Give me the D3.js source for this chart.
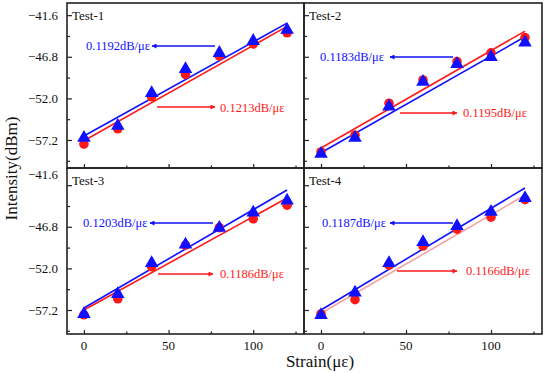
<!DOCTYPE html>
<html lang="en">
  <head>
    <meta charset="UTF-8" />
    <title>strain sensitivity</title>
    <style>
      body {
        margin: 0;
        background: #fff;
      }
      svg text {
        font-family: "Liberation Serif", "DejaVu Serif", "Times New Roman", serif;
      }
      .tick-label {
        font-size: 13px;
        fill: #111;
      }
      .note {
        font-size: 12.5px;
      }
    </style>
  </head>
  <body>
    <svg id="chart" width="550" height="373"></svg>
    <script src="https://d3js.org/d3.v7.min.js"></script>
    <script>
      // strain steps (με)
      const strain = [0, 20, 40, 60, 80, 100, 120];

      // measured intensity (dBm), red circles and blue triangles
      const test1Red = [-57.7, -55.8, -51.8, -49.0, -46.7, -45.2, -43.8];
      const test1Blue = [-56.8, -55.3, -51.2, -48.2, -46.2, -44.7, -43.3];
      const test2Red = [-58.7, -56.6, -52.6, -49.7, -47.4, -46.3, -44.4];
      const test2Blue = [-58.8, -56.8, -52.9, -49.8, -47.6, -46.7, -44.9];
      const test3Red = [-57.8, -55.8, -51.8, -49.1, -46.9, -45.8, -44.1];
      const test3Blue = [-57.6, -55.1, -51.2, -48.9, -46.8, -44.9, -43.4];
      const test4Red = [-57.7, -55.9, -51.6, -49.2, -47.1, -45.6, -43.4];
      const test4Blue = [-57.7, -54.9, -51.2, -48.6, -46.6, -44.8, -43.1];

      // linear fit ends at strain 0 and 120
      const fitStrain = [0, 120];
      const test1RedFit = [-57.3, -43.0];
      const test1BlueFit = [-56.7, -42.6];
      const test2RedFit = [-58.2, -43.6];
      const test2BlueFit = [-58.8, -44.3];
      const test3RedFit = [-57.2, -43.2];
      const test3BlueFit = [-56.95, -42.2];
      const test4RedFit = [-57.6, -42.85];
      const test4BlueFit = [-57.2, -41.95];

      const testNames = ["Test-1", "Test-2", "Test-3", "Test-4"];
      const blueSlopes = ["0.1192dB/με", "0.1183dB/με", "0.1203dB/με", "0.1187dB/με"];
      const redSlopes = ["0.1213dB/με", "0.1195dB/με", "0.1186dB/με", "0.1166dB/με"];

      const yTickLabels = [-41.6, -46.8, -52.0, -57.2];
      const yMinorTicks = [-44.2, -49.4, -54.6, -59.8];
      const xTickLabels = [0, 50, 100];
      const xMinorTicks = [25, 75, 125];

      const BLUE = "#1010ff";
      const RED = "#ff1a1a";

      const svg = d3.select("#chart");

      const left = 67, mid = 304, right = 542;
      const plotTop = 3, middle = 168, plotBottom = 334;

      const xLeft = d3.scaleLinear().domain([-10, 130]).range([left, mid]);
      const xRight = d3.scaleLinear().domain([-10, 130]).range([mid, right]);
      const yTop = d3.scaleLinear().domain([-60.7, -40.08]).range([middle, plotTop]);
      const yBottom = d3.scaleLinear().domain([-60.2, -39.45]).range([plotBottom, middle]);

      // annotation layout per panel, in panel-local pixels
      const notes = [
        { bt: [19, 43], ba: [148, 85], ra: [90, 148, 104], rt: [153, 105] },
        { bt: [16, 54], ba: [149, 86], ra: [96, 153, 110], rt: [159, 110] },
        { bt: [16, 55], ba: [146, 83], ra: [91, 146, 106], rt: [153, 106] },
        { bt: [18, 55], ba: [149, 86], ra: [93, 153, 103], rt: [162, 103] },
      ];

      const panels = [
        { x: xLeft, y: yTop, red: test1Red, blue: test1Blue, rf: test1RedFit, bf: test1BlueFit, yLabels: true, xAxis: false, redFitColor: RED },
        { x: xRight, y: yTop, red: test2Red, blue: test2Blue, rf: test2RedFit, bf: test2BlueFit, yLabels: false, xAxis: false, redFitColor: RED },
        { x: xLeft, y: yBottom, red: test3Red, blue: test3Blue, rf: test3RedFit, bf: test3BlueFit, yLabels: true, xAxis: true, redFitColor: RED },
        { x: xRight, y: yBottom, red: test4Red, blue: test4Blue, rf: test4RedFit, bf: test4BlueFit, yLabels: false, xAxis: true, redFitColor: "#f4a3a3" },
      ];

      const defs = svg.append("defs");
      [["arrowBlue", BLUE], ["arrowRed", RED]].forEach(([id, c]) => {
        defs.append("marker")
          .attr("id", id)
          .attr("viewBox", "0 0 10 10")
          .attr("refX", 9)
          .attr("refY", 5)
          .attr("markerWidth", 7)
          .attr("markerHeight", 5)
          .attr("markerUnits", "userSpaceOnUse")
          .attr("orient", "auto")
          .append("path")
          .attr("d", "M0,0L10,5L0,10Z")
          .attr("fill", c);
      });

      const triangle = d3.symbol().type(d3.symbolTriangle).size(80);

      panels.forEach((p, i) => {
        const [x0, x1] = p.x.range();
        const [y1, y0] = p.y.range();
        const g = svg.append("g");
        const clipId = "clip" + i;
        defs.append("clipPath").attr("id", clipId)
          .append("rect").attr("x", x0).attr("y", y0).attr("width", x1 - x0).attr("height", y1 - y0);

        // y ticks pointing inward
        const yAxis = d3.axisRight(p.y).tickValues(yTickLabels).tickSize(5)
          .tickFormat("");
        g.append("g").attr("transform", `translate(${x0},0)`).call(yAxis)
          .call(a => a.select(".domain").remove())
          .call(a => a.selectAll("line").attr("stroke", "#222").attr("stroke-width", 1.2));
        g.append("g").attr("transform", `translate(${x0},0)`)
          .call(d3.axisRight(p.y).tickValues(yMinorTicks.filter(v => v > p.y.domain()[0])).tickSize(3).tickFormat(""))
          .call(a => a.select(".domain").remove())
          .call(a => a.selectAll("line").attr("stroke", "#222").attr("stroke-width", 1.2));

        if (p.yLabels) {
          g.append("g").selectAll("text").data(yTickLabels).join("text")
            .attr("class", "tick-label")
            .attr("x", x0 - 9)
            .attr("y", d => p.y(d))
            // the top label of the lower panel sits just under the divider
            .attr("dy", d => (i === 2 && d === yTickLabels[0]) ? "-0.45em" : "0.35em")
            .attr("text-anchor", "end")
            .text(d => d3.format(".1f")(d));
        }

        // x ticks pointing up from the bottom edge
        g.append("g").attr("transform", `translate(0,${y1})`)
          .call(d3.axisTop(p.x).tickValues(xTickLabels).tickSize(4).tickFormat(""))
          .call(a => a.select(".domain").remove())
          .call(a => a.selectAll("line").attr("stroke", "#222").attr("stroke-width", 1.2));
        g.append("g").attr("transform", `translate(0,${y1})`)
          .call(d3.axisTop(p.x).tickValues(xMinorTicks).tickSize(2.5).tickFormat(""))
          .call(a => a.select(".domain").remove())
          .call(a => a.selectAll("line").attr("stroke", "#222").attr("stroke-width", 1.2));

        if (p.xAxis) {
          g.append("g").selectAll("text").data(xTickLabels).join("text")
            .attr("class", "tick-label")
            .attr("x", d => p.x(d))
            .attr("y", y1 + 16)
            .attr("text-anchor", "middle")
            .text(d => d);
        }

        const plot = g.append("g").attr("clip-path", `url(#${clipId})`);
        const line = d3.line().x(d => p.x(d[0])).y(d => p.y(d[1]));

        plot.append("path").datum(d3.zip(fitStrain, p.rf))
          .attr("d", line).attr("fill", "none").attr("stroke", p.redFitColor).attr("stroke-width", 1.6);
        plot.append("path").datum(d3.zip(fitStrain, p.bf))
          .attr("d", line).attr("fill", "none").attr("stroke", BLUE).attr("stroke-width", 1.6);

        plot.selectAll("circle").data(d3.zip(strain, p.red)).join("circle")
          .attr("cx", d => p.x(d[0]))
          .attr("cy", d => p.y(d[1]))
          .attr("r", 4.8)
          .attr("fill", RED);

        plot.selectAll("path.tri").data(d3.zip(strain, p.blue)).join("path")
          .attr("class", "tri")
          .attr("transform", d => `translate(${p.x(d[0])},${p.y(d[1]) + 1})`)
          .attr("d", triangle)
          .attr("fill", BLUE);

        // panel title
        g.append("text").attr("x", x0 + 5).attr("y", y0 + 17)
          .attr("font-size", "13px").attr("fill", "#111").text(testNames[i]);

        // slope notes with arrows
        const n = notes[i];
        g.append("text").attr("class", "note").attr("fill", BLUE)
          .attr("x", x0 + n.bt[0]).attr("y", y0 + n.bt[1]).attr("dy", "0.35em")
          .text(blueSlopes[i]);
        g.append("line")
          .attr("x1", x0 + n.ba[0]).attr("x2", x0 + n.ba[1])
          .attr("y1", y0 + n.bt[1]).attr("y2", y0 + n.bt[1])
          .attr("stroke", BLUE).attr("stroke-width", 1.3)
          .attr("marker-end", "url(#arrowBlue)");
        g.append("line")
          .attr("x1", x0 + n.ra[0]).attr("x2", x0 + n.ra[1])
          .attr("y1", y0 + n.ra[2]).attr("y2", y0 + n.ra[2])
          .attr("stroke", RED).attr("stroke-width", 1.3)
          .attr("marker-end", "url(#arrowRed)");
        g.append("text").attr("class", "note").attr("fill", RED)
          .attr("x", x0 + n.rt[0]).attr("y", y0 + n.rt[1]).attr("dy", "0.35em")
          .text(redSlopes[i]);

        // frame
        g.append("rect").attr("x", x0).attr("y", y0)
          .attr("width", x1 - x0).attr("height", y1 - y0)
          .attr("fill", "none").attr("stroke", "#222").attr("stroke-width", 1.6);
      });

      // axis titles
      svg.append("text")
        .attr("transform", `translate(17,${(plotTop + plotBottom) / 2}) rotate(-90)`)
        .attr("text-anchor", "middle")
        .attr("font-size", "17px")
        .attr("fill", "#111")
        .text("Intensity(dBm)");

      svg.append("text")
        .attr("x", 320)
        .attr("y", 367)
        .attr("text-anchor", "middle")
        .attr("font-size", "17px")
        .attr("fill", "#111")
        .text("Strain(με)");
    </script>
  </body>
</html>
